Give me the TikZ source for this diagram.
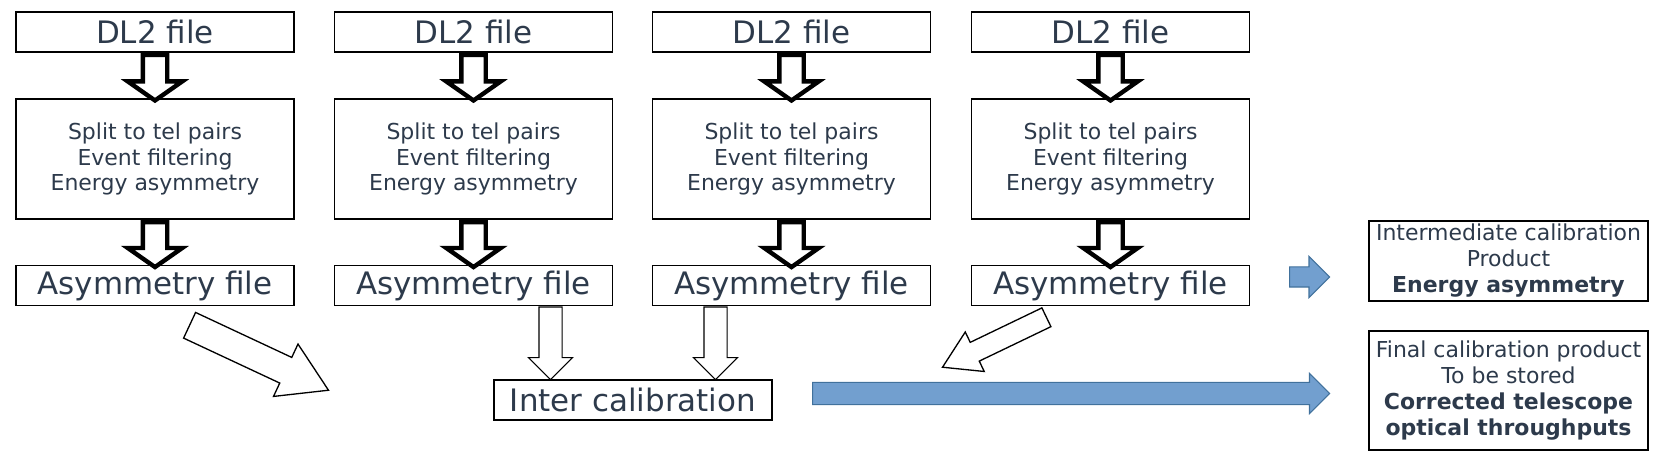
\documentclass[tikz,border=0pt]{standalone}
\usepackage{fontspec}
\setmainfont{DejaVu Sans}
\usetikzlibrary{positioning,calc,shapes.arrows}

\definecolor{textslate}{RGB}{45,58,75}
\definecolor{prodblue}{RGB}{114,159,207}
\definecolor{prodedge}{RGB}{65,113,156}

\tikzset{
  filebox/.style={draw, line width=0.9pt, inner sep=0pt, minimum width=5.56cm, minimum height=0.80cm,
    text=textslate, font=\fontsize{17.6}{21}\selectfont},
  procbox/.style={draw, line width=0.9pt, inner sep=0pt, minimum width=5.56cm, minimum height=2.40cm,
    align=center, text=textslate, font=\fontsize{12.5}{14.7}\selectfont},
  prodbox/.style={draw, line width=0.9pt, inner sep=0pt, minimum width=5.58cm,
    align=center, text=textslate, font=\fontsize{12.5}{14.8}\selectfont},
  fatarrow/.style={single arrow, draw, fill=white, line width=2.5pt, inner xsep=0pt, inner ysep=0.2cm,
    single arrow head extend=0.3cm, single arrow tip angle=110},
  thinarrow/.style={single arrow, draw, fill=white, line width=0.6pt, inner xsep=0pt, inner ysep=0.22cm,
    single arrow head extend=0.21cm, single arrow tip angle=90},
  slantarrow/.style={single arrow, draw, fill=white, line width=0.75pt, inner xsep=0pt,
    single arrow tip angle=63},
  bluearrow/.style={single arrow, draw=prodedge, fill=prodblue, line width=0.6pt, inner xsep=0pt,
    inner ysep=0.19cm, single arrow head extend=0.21cm, single arrow tip angle=90},
}

% block arrow from #2 to #3
\newcommand{\blockarrow}[3][]{%
  \path let \p1=(#2), \p2=(#3), \n1={atan2(\y2-\y1,\x2-\x1)}, \n2={veclen(\x2-\x1,\y2-\y1)} in
    node[#1, anchor=tail, minimum height=\n2, rotate=\n1] at (\p1) {};}

\begin{document}
\begin{tikzpicture}[node distance=0.91cm]
  \useasboundingbox (0,0) rectangle (33.3,9.32);
  % DL2 files
  \node[filebox] (dl1) at (3.10,8.68) {DL2 file};
  \node[filebox] (dl2) at (9.47,8.68) {DL2 file};
  \node[filebox] (dl3) at (15.83,8.68) {DL2 file};
  \node[filebox] (dl4) at (22.21,8.68) {DL2 file};
  % Processing
  \node[procbox, below=of dl1] (proc1) {Split to tel pairs\\Event filtering\\Energy asymmetry};
  \node[procbox, below=of dl2] (proc2) {Split to tel pairs\\Event filtering\\Energy asymmetry};
  \node[procbox, below=of dl3] (proc3) {Split to tel pairs\\Event filtering\\Energy asymmetry};
  \node[procbox, below=of dl4] (proc4) {Split to tel pairs\\Event filtering\\Energy asymmetry};
  % Asymmetry files
  \node[filebox, below=0.90cm of proc1] (asym1) {Asymmetry file};
  \node[filebox, below=0.90cm of proc2] (asym2) {Asymmetry file};
  \node[filebox, below=0.90cm of proc3] (asym3) {Asymmetry file};
  \node[filebox, below=0.90cm of proc4] (asym4) {Asymmetry file};
  \node[filebox] (inter) at (12.66,1.32) {Inter calibration};
  % Products
  \node[prodbox, minimum height=1.60cm] (prod1) at (30.17,4.10)
    {Intermediate calibration\\Product\\\textbf{Energy asymmetry}};
  \node[prodbox, minimum height=2.38cm] (prod2) at (30.17,1.51)
    {Final calibration product\\To be stored\\\textbf{Corrected telescope}\\\textbf{optical throughputs}};

  % Fat arrows
  \blockarrow[fatarrow]{dl1.south}{proc1.north}
  \blockarrow[fatarrow]{dl2.south}{proc2.north}
  \blockarrow[fatarrow]{dl3.south}{proc3.north}
  \blockarrow[fatarrow]{dl4.south}{proc4.north}
  \blockarrow[fatarrow]{proc1.south}{asym1.north}
  \blockarrow[fatarrow]{proc2.south}{asym2.north}
  \blockarrow[fatarrow]{proc3.south}{asym3.north}
  \blockarrow[fatarrow]{proc4.south}{asym4.north}
  % Into inter calibration
  \coordinate (in2) at ($(inter.north)+(-1.65,0)$);
  \coordinate (in3) at ($(inter.north)+(1.65,0)$);
  \blockarrow[thinarrow]{in2 |- asym2.south}{in2}
  \blockarrow[thinarrow]{in3 |- asym3.south}{in3}
  \coordinate (s1) at (3.78,2.82);
  \coordinate (e1) at (6.56,1.52);
  \coordinate (s4) at (20.94,2.98);
  \coordinate (e4) at (18.86,1.98);
  \blockarrow[slantarrow, inner ysep=0.27cm, single arrow head extend=0.295cm]{s1}{e1}
  \blockarrow[slantarrow, inner ysep=0.195cm, single arrow head extend=0.23cm]{s4}{e4}
  % Blue arrows
  \coordinate (b1) at (25.78,3.78);
  \coordinate (b2) at (16.24,1.45);
  \coordinate (c1) at (26.58,3.78);
  \coordinate (c2) at (26.58,1.45);
  \blockarrow[bluearrow]{b1}{c1}
  \blockarrow[bluearrow, inner ysep=0.21cm, single arrow head extend=0.18cm]{b2}{c2}
\end{tikzpicture}
\end{document}
